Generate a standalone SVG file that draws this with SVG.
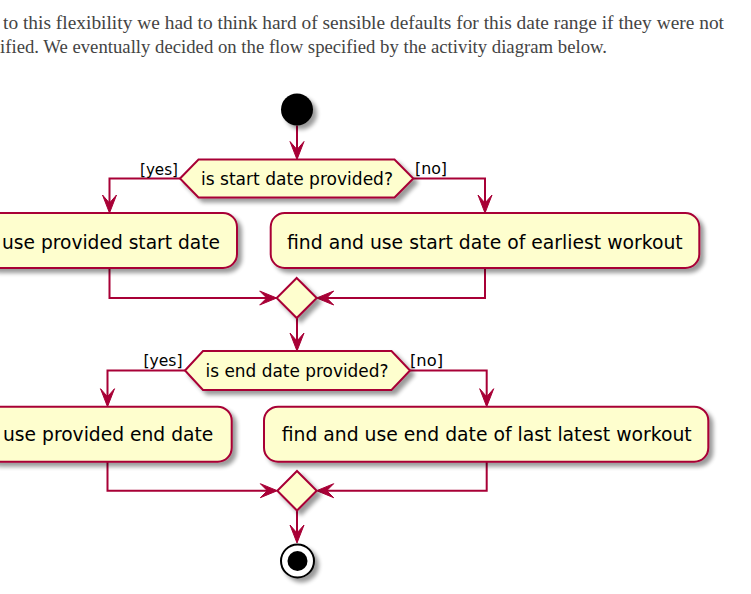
<svg xmlns="http://www.w3.org/2000/svg" width="751" height="594" viewBox="0 0 751 594">
<style>
.para{font-family:"Liberation Serif","DejaVu Serif",serif;font-size:18.5px;fill:#444444}
.node{fill:#FEFECE;stroke:#A80036;stroke-width:2}
.t{font-family:"DejaVu Sans","Noto Sans",sans-serif;font-size:19px;fill:#000}
.tq{font-family:"DejaVu Sans","Noto Sans",sans-serif;font-size:17px;fill:#000}
.lbl{font-family:"DejaVu Sans","Noto Sans",sans-serif;font-size:16px;fill:#000}
.edge{fill:none;stroke:#A80036;stroke-width:2}
.head{fill:#A80036;stroke:#A80036;stroke-width:1}
</style>
<defs>
<filter id="sh" x="-20%" y="-30%" width="150%" height="170%">
<feGaussianBlur in="SourceAlpha" stdDeviation="2"/>
<feOffset dx="4" dy="4" result="o"/>
<feComponentTransfer in="o"><feFuncA type="linear" slope="0.4"/></feComponentTransfer>
<feMerge><feMergeNode/><feMergeNode in="SourceGraphic"/></feMerge>
</filter>
</defs>
<rect width="751" height="594" fill="#ffffff"/>
<g id="paragraph">
<text class="para" x="3" y="29" textLength="721" lengthAdjust="spacingAndGlyphs">to this flexibility we had to think hard of sensible defaults for this date range if they were not</text>
<text class="para" x="0" y="53" textLength="607" lengthAdjust="spacingAndGlyphs">ified. We eventually decided on the flow specified by the activity diagram below.</text>
</g>
<g id="connectors">
<path class="edge" d="M297,125.5 V157.5"/>
<polygon class="head" points="297,159.5 290,141.5 297,149.5 304,141.5"/>
<path class="edge" d="M180,178.5 H109.5 V211"/>
<polygon class="head" points="109.5,213 102.5,195 109.5,203 116.5,195"/>
<path class="edge" d="M413.3,178.5 H485 V211"/>
<polygon class="head" points="485,213 478,195 485,203 492,195"/>
<path class="edge" d="M109.5,268 V298 H274.7"/>
<polygon class="head" points="276.7,298 259.7,291 266.7,298 259.7,305"/>
<path class="edge" d="M485,268 V298 H318.7"/>
<polygon class="head" points="316.7,298 333.7,291 326.7,298 333.7,305"/>
<path class="edge" d="M297,318 V349"/>
<polygon class="head" points="297,351 290,333 297,341 304,333"/>
<path class="edge" d="M185,370.5 H107.5 V404.7"/>
<polygon class="head" points="107.5,406.7 100.5,388.7 107.5,396.7 114.5,388.7"/>
<path class="edge" d="M410,370.5 H486.7 V404.7"/>
<polygon class="head" points="486.7,406.7 479.7,388.7 486.7,396.7 493.7,388.7"/>
<path class="edge" d="M107.5,461.7 V490.7 H275.3"/>
<polygon class="head" points="277.3,490.7 260.3,483.7 267.3,490.7 260.3,497.7"/>
<path class="edge" d="M486.7,461.7 V490.7 H318.7"/>
<polygon class="head" points="316.7,490.7 333.7,483.7 326.7,490.7 333.7,497.7"/>
<path class="edge" d="M297,510.5 V541"/>
<polygon class="head" points="297,543 290,525 297,533 304,525"/>
<text class="lbl" x="178" y="175" text-anchor="end" textLength="38" lengthAdjust="spacingAndGlyphs">[yes]</text>
<text class="lbl" x="415" y="174" textLength="32" lengthAdjust="spacingAndGlyphs">[no]</text>
<text class="lbl" x="182.5" y="366" text-anchor="end" textLength="39" lengthAdjust="spacingAndGlyphs">[yes]</text>
<text class="lbl" x="410" y="366" textLength="33" lengthAdjust="spacingAndGlyphs">[no]</text>
</g>
<g id="start">
<circle cx="297" cy="109.5" r="16" fill="#000" filter="url(#sh)"/>
</g>
<g id="q1">
<polygon class="node" filter="url(#sh)" points="180,178.5 198.5,159.5 394.5,159.5 413.3,178.5 394.5,197.5 198.5,197.5"/>
<text class="tq" x="297" y="184.5" text-anchor="middle" textLength="192" lengthAdjust="spacingAndGlyphs">is start date provided?</text>
</g>
<g id="a1">
<rect class="node" filter="url(#sh)" x="-18" y="213" width="255" height="55" rx="14" ry="14"/>
<text class="t" x="2" y="249" textLength="218" lengthAdjust="spacingAndGlyphs">use provided start date</text>
</g>
<g id="a2">
<rect class="node" filter="url(#sh)" x="270.7" y="213" width="428.6" height="55" rx="14" ry="14"/>
<text class="t" x="287" y="248.5" textLength="395.7" lengthAdjust="spacingAndGlyphs">find and use start date of earliest workout</text>
</g>
<g id="m1">
<polygon class="node" filter="url(#sh)" points="296.7,278 316.7,298 296.7,318 276.7,298"/>
</g>
<g id="q2">
<polygon class="node" filter="url(#sh)" points="185,370.5 203,351 391.5,351 410,370.5 391.5,390 203,390"/>
<text class="tq" x="297" y="376.5" text-anchor="middle" textLength="183" lengthAdjust="spacingAndGlyphs">is end date provided?</text>
</g>
<g id="a3">
<rect class="node" filter="url(#sh)" x="-17" y="406.7" width="248.7" height="55" rx="14" ry="14"/>
<text class="t" x="3" y="440.5" textLength="210.3" lengthAdjust="spacingAndGlyphs">use provided end date</text>
</g>
<g id="a4">
<rect class="node" filter="url(#sh)" x="264" y="406.7" width="444.3" height="55" rx="14" ry="14"/>
<text class="t" x="281.7" y="440.5" textLength="410" lengthAdjust="spacingAndGlyphs">find and use end date of last latest workout</text>
</g>
<g id="m2">
<polygon class="node" filter="url(#sh)" points="297,471 316.7,490.7 297,510.5 277.3,490.7"/>
</g>
<g id="end">
<g filter="url(#sh)">
<circle cx="297.5" cy="561" r="16.5" fill="#fff" stroke="#000" stroke-width="2"/>
<circle cx="297.5" cy="561" r="10" fill="#000"/>
</g>
</g>
</svg>
